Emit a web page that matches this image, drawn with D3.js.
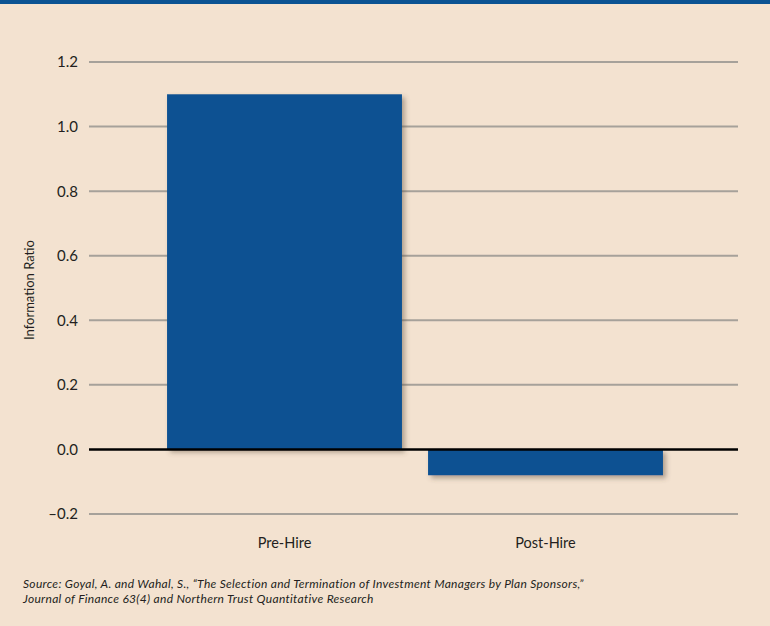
<!DOCTYPE html>
<html><head><meta charset="utf-8">
<script src="https://cdn.jsdelivr.net/npm/d3@7"></script>
<style>
html,body{margin:0;padding:0;background:#f3e2d0;}
svg{display:block;}
text{font-family:"Lato","Open Sans",sans-serif;fill:#231f20;}
</style></head>
<body>
<svg id="chart" width="770" height="626"></svg>
<script>
const categories = ["Pre-Hire", "Post-Hire"];
const values = [1.10, -0.08];
const yTicks = [-0.2, 0.0, 0.2, 0.4, 0.6, 0.8, 1.0, 1.2];
const yTitle = "Information Ratio";
const sourceLines = [
  "Source: Goyal, A. and Wahal, S., \u201cThe Selection and Termination of Investment Managers by Plan Sponsors,\u201d",
  "Journal of Finance 63(4) and Northern Trust Quantitative Research"
];

const svg = d3.select("#chart");
const W = 770, H = 626;
svg.append("rect").attr("width", W).attr("height", H).attr("fill", "#f3e2d0");
svg.append("rect").attr("width", W).attr("height", 4).attr("fill", "#0b5393");

const defs = svg.append("defs");
const f = defs.append("filter").attr("id", "shadow").attr("x", "-10%").attr("y", "-10%").attr("width", "130%").attr("height", "140%");
f.append("feDropShadow").attr("dx", 3).attr("dy", 3).attr("stdDeviation", 2.5).attr("flood-color", "#5a4a38").attr("flood-opacity", 0.45);

const y = d3.scaleLinear().domain([-0.2, 1.2]).range([514, 62]);
const x = d3.scaleBand().domain(categories).range([154, 676]).paddingInner(0.1).paddingOuter(0.05);
const gx0 = 89, gx1 = 738;

// gridlines
const grid = svg.append("g");
grid.selectAll("line").data(yTicks.filter(d => d !== 0)).join("line")
  .attr("x1", gx0).attr("x2", gx1)
  .attr("y1", d => y(d)).attr("y2", d => y(d))
  .attr("stroke", "#a6a19a").attr("stroke-width", 2);

// y labels
svg.append("g").selectAll("text").data(yTicks).join("text")
  .attr("x", 78).attr("y", d => y(d)).attr("dy", "0.36em")
  .attr("text-anchor", "end").attr("font-size", 15)
  .text(d => (d < 0 ? "\u2013" : "") + Math.abs(d).toFixed(1));

// bars
svg.append("g").selectAll("rect").data(categories).join("rect")
  .attr("x", d => x(d))
  .attr("width", x.bandwidth())
  .attr("y", (d, i) => y(Math.max(0, values[i])))
  .attr("height", (d, i) => Math.abs(y(values[i]) - y(0)))
  .attr("fill", "#085192")
  .attr("filter", "url(#shadow)");

// zero line
svg.append("line").attr("x1", gx0).attr("x2", gx1).attr("y1", y(0)).attr("y2", y(0))
  .attr("stroke", "#000").attr("stroke-width", 2.5);

// category labels
svg.append("g").selectAll("text").data(categories).join("text")
  .attr("x", d => x(d) + x.bandwidth() / 2).attr("y", 548)
  .attr("text-anchor", "middle").attr("font-size", 14.5)
  .text(d => d);

// y title
svg.append("text").attr("transform", "translate(34,290) rotate(-90)")
  .attr("text-anchor", "middle").attr("font-size", 13).text(yTitle);

// source
svg.append("g").selectAll("text").data(sourceLines).join("text")
  .attr("x", 23).attr("y", (d, i) => 588 + i * 15)
  .attr("font-size", 12).attr("font-style", "italic").attr("letter-spacing", 0.3)
  .text(d => d);
</script>
</body></html>
